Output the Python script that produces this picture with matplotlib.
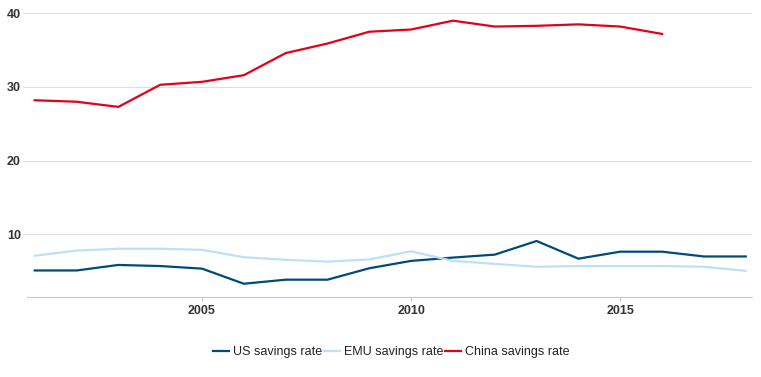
import matplotlib
matplotlib.use("Agg")
import matplotlib.pyplot as plt

years = list(range(2001, 2019))
us_rate = [5.1, 5.1, 5.85, 5.7, 5.35, 3.3, 3.85, 3.85, 5.4, 6.4, 6.85, 7.25, 9.1, 6.7, 7.65, 7.65, 7.0, 7.0]
emu_rate = [7.1, 7.8, 8.05, 8.05, 7.9, 6.9, 6.55, 6.3, 6.6, 7.7, 6.4, 6.0, 5.6, 5.7, 5.7, 5.7, 5.6, 5.05]
china_years = list(range(2001, 2017))
china_rate = [28.2, 28.0, 27.3, 30.3, 30.7, 31.6, 34.6, 35.9, 37.5, 37.8, 39.0, 38.2, 38.3, 38.5, 38.2, 37.2]
yticks = [10, 20, 30, 40]
xticks = [2005, 2010, 2015]

plt.rcParams['font.family'] = ['Liberation Sans', 'DejaVu Sans']

W, H = 761, 377
fig = plt.figure(figsize=(W / 100, H / 100), dpi=100)
ax = fig.add_axes([23 / W, 1 - 297 / H, (752 - 23) / W, (297 - 13.3) / H])

ax.plot(years, us_rate, color='#004b7a', lw=1.6, label='US savings rate')
ax.plot(years, emu_rate, color='#bde0f5', lw=1.6, label='EMU savings rate')
ax.plot(china_years, china_rate, color='#e3001b', lw=1.6, label='China savings rate')

ax.set_xlim(2000.72, 2018.15)
ax.set_ylim(1.5, 40)
ax.set_yticks(yticks)
ax.set_xticks(xticks)
ax.grid(axis='y', color='#e0e0e0', lw=0.8)
ax.set_axisbelow(True)
for s in ['top', 'right', 'left']:
    ax.spines[s].set_visible(False)
ax.spines['bottom'].set_color('#c8c8c8')
ax.spines['bottom'].set_linewidth(0.8)
ax.spines['bottom'].set_bounds(2000.81, 2018.15)
ax.tick_params(axis='y', length=0, pad=1.5, labelsize=9, labelcolor='#333333')
ax.tick_params(axis='x', length=3, width=0.8, color='#c8c8c8', pad=3, labelsize=9, labelcolor='#333333')
for lab in ax.get_xticklabels() + ax.get_yticklabels():
    lab.set_fontweight('bold')

ax.legend(loc='center', bbox_to_anchor=(391 / W, 1 - 352 / H), bbox_transform=fig.transFigure,
          ncol=3, frameon=False, fontsize=9, handlelength=1.3, handletextpad=0.3,
          columnspacing=0.15, borderpad=0, labelcolor='#222222')

fig.savefig('out.png', dpi=100)
